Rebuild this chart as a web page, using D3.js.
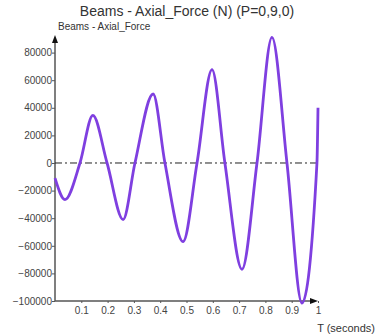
<!DOCTYPE html>
<html>
<head>
<meta charset="utf-8">
<script src="https://cdn.jsdelivr.net/npm/d3@7"></script>
<style>
  body { margin: 0; background: #fff; }
  svg text { font-family: "Liberation Sans", Arial, sans-serif; }
</style>
</head>
<body>
<svg id="chart" width="376" height="334"></svg>
<script>
// time (seconds) and axial force (N)
const times = [0, 0.038, 0.095, 0.144, 0.198, 0.259, 0.304, 0.373, 0.418, 0.487,
               0.540, 0.597, 0.646, 0.711, 0.768, 0.825, 0.882, 0.939, 0.996, 1.0];
const forces = [-11000, -26500, 0, 34500, 0, -41000, 0, 50000, 0, -57000,
                0, 67600, 0, -77000, 0, 91000, 0, -101500, 0, 40000];
const xTicks = [0.1, 0.2, 0.3, 0.4, 0.5, 0.6, 0.7, 0.8, 0.9, 1];
const yTicks = [-100000, -80000, -60000, -40000, -20000, 0, 20000, 40000, 60000, 80000];

const svg = d3.select('#chart');
const plotL = 55, plotR = 318, plotB = 301, plotT = 35;

var x = d3.scaleLinear().domain([0, 1]).range([plotL, plotR]);
var y = d3.scaleLinear().domain([-100000, 92750]).range([plotB, plotT]);

const axisColor = '#555';

// titles
svg.append('text')
    .attr('x', 187).attr('y', 16)
    .attr('text-anchor', 'middle')
    .style('font-size', '14px')
    .style('fill', '#333')
    .text('Beams - Axial_Force (N) (P=0,9,0)');

svg.append('text')
    .attr('x', 58).attr('y', 30)
    .style('font-size', '10px')
    .style('fill', '#333')
    .text('Beams - Axial_Force');

// y axis
const yAxis = svg.append('g')
    .attr('transform', `translate(${plotL},0)`)
    .call(d3.axisLeft(y).tickValues(yTicks).tickSize(3).tickFormat(d3.format('d')));
yAxis.select('.domain').remove();
yAxis.selectAll('line').attr('stroke', axisColor);
yAxis.selectAll('text')
    .attr('x', -3)
    .style('font-size', '10px')
    .style('fill', '#444');

// x axis
const xAxis = svg.append('g')
    .attr('transform', `translate(0,${plotB})`)
    .call(d3.axisBottom(x).tickValues(xTicks).tickSize(2).tickFormat(d3.format('')));
xAxis.select('.domain').remove();
xAxis.selectAll('line').attr('stroke', axisColor);
xAxis.selectAll('text')
    .attr('y', 6)
    .style('font-size', '10px')
    .style('fill', '#444');

// axis lines with arrows
svg.append('line')
    .attr('x1', plotL).attr('x2', plotL)
    .attr('y1', plotB).attr('y2', plotT + 4)
    .attr('stroke', axisColor).attr('stroke-width', 1.5);
svg.append('path')
    .attr('d', `M${plotL},${plotT} L${plotL - 3},${plotT + 8} L${plotL + 3},${plotT + 8} Z`)
    .attr('fill', '#111');

svg.append('line')
    .attr('x1', plotL).attr('x2', plotR - 4)
    .attr('y1', plotB).attr('y2', plotB)
    .attr('stroke', axisColor).attr('stroke-width', 1.5);
svg.append('path')
    .attr('d', `M${plotR},${plotB} L${plotR - 8},${plotB - 3} L${plotR - 8},${plotB + 3} Z`)
    .attr('fill', '#111');

svg.append('text')
    .attr('x', 375).attr('y', 332)
    .attr('text-anchor', 'end')
    .style('font-size', '11px')
    .style('fill', '#333')
    .text('T (seconds)');

// zero line
svg.append('line')
    .attr('x1', plotL).attr('x2', x(1))
    .attr('y1', y(0)).attr('y2', y(0))
    .attr('stroke', '#222')
    .attr('stroke-width', 1)
    .attr('stroke-dasharray', '7,3,2,3');

// force curve
const data = times.map((t, i) => ({ t: t, f: forces[i] }));
const line = d3.line()
    .x(d => x(d.t))
    .y(d => y(d.f))
    .curve(d3.curveMonotoneX);

svg.append('path')
    .datum(data)
    .attr('d', line)
    .attr('fill', 'none')
    .attr('stroke', '#7f3fe0')
    .attr('stroke-width', 2.8)
    .attr('stroke-linejoin', 'round');
</script>
</body>
</html>
